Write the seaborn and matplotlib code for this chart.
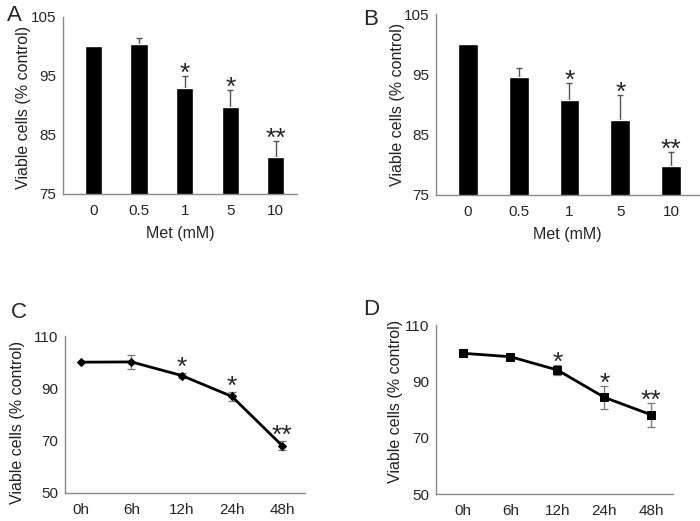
import numpy as np
import pandas as pd
import matplotlib
matplotlib.use("Agg")
import matplotlib.pyplot as plt
import seaborn as sns

sns.set_theme(style="white")
plt.rcParams["font.family"] = ["Liberation Sans", "DejaVu Sans"]

# dados
doses = ["0", "0.5", "1", "5", "10"]
viab_a = [100.0, 100.4, 93.0, 89.7, 81.2]
erro_a = [0.0, 1.0, 2.0, 2.9, 2.8]
viab_b = [100.0, 94.5, 90.7, 87.4, 79.8]
erro_b = [0.0, 1.5, 2.9, 4.2, 2.3]
sig_barras = ["", "", "*", "*", "**"]

tempos = ["0h", "6h", "12h", "24h", "48h"]
viab_c = [100.0, 100.1, 94.9, 86.9, 68.1]
erro_c = [0.0, 2.6, 1.0, 1.8, 1.8]
viab_d = [100.0, 98.8, 94.1, 84.4, 78.2]
erro_d = [0.0, 0.6, 1.8, 4.0, 4.2]
sig_linhas = ["", "", "*", "*", "**"]

CINZA = "#8a8a8a"
FS_TICK = 11
FS_LABEL = 11.5
FS_SIG = 19


def estilizar(ax, pos_rotulo):
    for lado in ["top", "right"]:
        ax.spines[lado].set_visible(False)
    for lado in ["left", "bottom"]:
        ax.spines[lado].set_color(CINZA)
        ax.spines[lado].set_linewidth(1.0)
    ax.tick_params(axis="y", length=3, width=0.8, color=CINZA, labelsize=FS_TICK, pad=2)
    ax.tick_params(axis="x", length=0, labelsize=FS_TICK, pad=7)
    ax.set_ylabel("Viable cells (% control)", fontsize=FS_LABEL, color="#222222")
    ax.yaxis.set_label_coords(*pos_rotulo)


def marcar(ax, pos, valores, erros, sig, desloc_pt):
    for p, v, e, s in zip(pos, valores, erros, sig):
        if s:
            ax.annotate(s, xy=(p, v + e), xytext=(0, desloc_pt), textcoords="offset points",
                        ha="center", va="baseline", fontsize=FS_SIG)


def painel_barras(ax, valores, erros, sig, xlim, largura, pos_rotulo):
    df = pd.DataFrame({"dose": doses, "viab": valores})
    sns.barplot(data=df, x="dose", y="viab", color="black", width=largura,
                errorbar=None, ax=ax, saturation=1, zorder=2)
    pos = np.arange(len(doses))
    com_erro = np.array(erros) > 0
    # barra de erro só para cima; a parte de baixo fica escondida atrás da barra
    ax.errorbar(pos[com_erro], np.array(valores)[com_erro],
                yerr=[np.zeros(com_erro.sum()), np.array(erros)[com_erro]],
                fmt="none", ecolor="#555555", elinewidth=1.0, capsize=2.5, capthick=1.0,
                zorder=1)
    marcar(ax, pos, valores, erros, sig, -3.5)
    ax.set_ylim(75, 105)
    ax.set_yticks([75, 85, 95, 105])
    ax.set_xlim(*xlim)
    ax.set_xlabel("Met (mM)", fontsize=FS_LABEL, labelpad=6)
    estilizar(ax, pos_rotulo)


def painel_linha(ax, valores, erros, sig, marcador, tam, xlim, desloc_pt, pos_rotulo):
    pos = np.arange(len(tempos))
    df = pd.DataFrame({"pos": pos, "viab": valores})
    com_erro = np.array(erros) > 0
    ax.errorbar(pos[com_erro], np.array(valores)[com_erro], yerr=np.array(erros)[com_erro],
                fmt="none", ecolor="#777777", elinewidth=0.9, capsize=3.2, capthick=0.9, zorder=1)
    sns.lineplot(data=df, x="pos", y="viab", color="black", linewidth=2,
                 marker=marcador, markersize=tam, markeredgecolor="black",
                 ax=ax, zorder=2)
    marcar(ax, pos, valores, erros, sig, desloc_pt)
    ax.set_ylim(50, 110)
    ax.set_yticks([50, 70, 90, 110])
    ax.set_xlim(*xlim)
    ax.set_xticks(pos)
    ax.set_xticklabels(tempos)
    ax.set_xlabel("")
    estilizar(ax, pos_rotulo)


fig = plt.figure(figsize=(7.0, 5.21), dpi=100)
ax_a = fig.add_axes([0.090, 0.628, 0.334, 0.340])
ax_b = fig.add_axes([0.623, 0.626, 0.376, 0.347])
ax_c = fig.add_axes([0.093, 0.054, 0.343, 0.301])
ax_d = fig.add_axes([0.623, 0.051, 0.339, 0.325])

painel_barras(ax_a, viab_a, erro_a, sig_barras, (-0.67, 4.46), 0.38, (-0.137, 0.49))
painel_barras(ax_b, viab_b, erro_b, sig_barras, (-0.62, 4.55), 0.39, (-0.118, 0.50))
painel_linha(ax_c, viab_c, erro_c, sig_linhas, "D", 4.5, (-0.32, 4.46), -1.5, (-0.167, 0.45))
painel_linha(ax_d, viab_d, erro_d, sig_linhas, "s", 5.5, (-0.58, 4.47), -3.5, (-0.139, 0.55))

for letra, x, y in [("A", 0.010, 0.970), ("B", 0.519, 0.962), ("C", 0.015, 0.400), ("D", 0.519, 0.405)]:
    fig.text(x, y, letra, fontsize=16, ha="left", va="center")

fig.savefig("out.png", dpi=100)
